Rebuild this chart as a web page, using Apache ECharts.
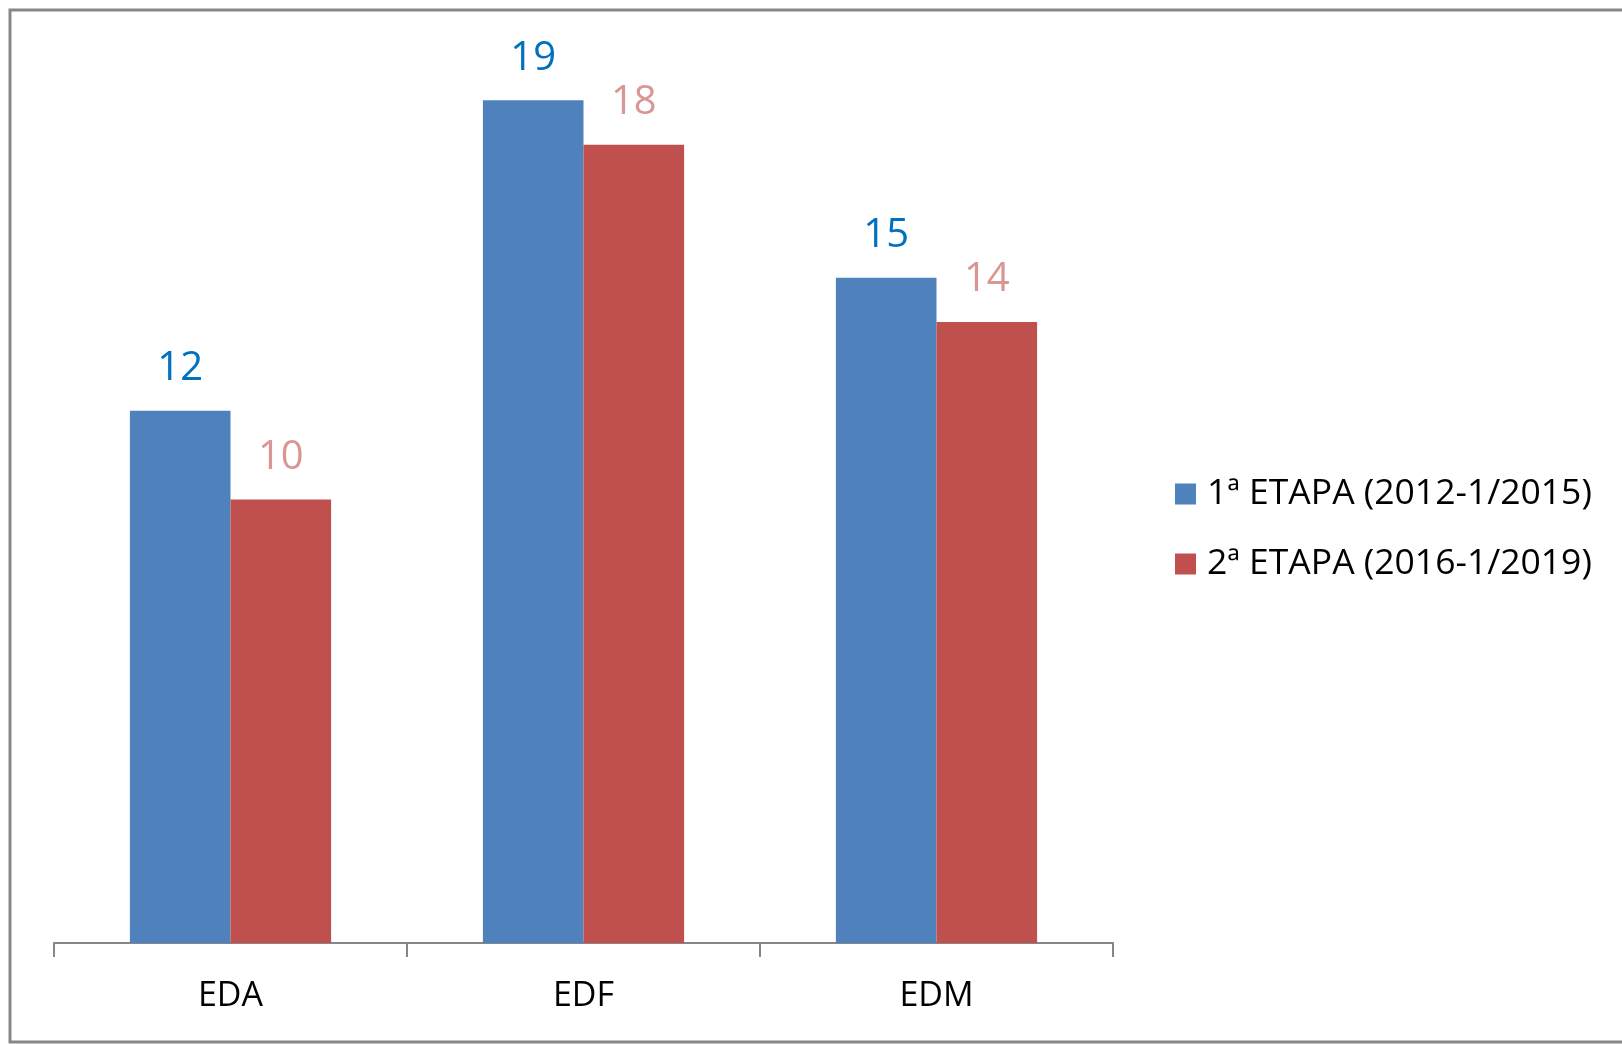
<!DOCTYPE html>
<html>
<head>
<meta charset="utf-8">
<script src="https://cdn.jsdelivr.net/npm/echarts@6/dist/echarts.min.js"></script>
<style>
  html, body { margin: 0; padding: 0; background: #fff; }
  #chart { width: 1622px; height: 1044px; }
</style>
</head>
<body>
<div id="chart"></div>
<script>
// categorias e valores
const categories = ['EDA', 'EDF', 'EDM'];
const seriesNames = ['1ª ETAPA (2012-1/2015)', '2ª ETAPA (2016-1/2019)'];
const etapa1 = [12, 19, 15];
const etapa2 = [10, 18, 14];

const chart = echarts.init(document.getElementById('chart'));

const font = '"Open Sans", "DejaVu Sans", sans-serif';

const option = {
  animation: false,
  backgroundColor: '#fff',
  // moldura cinza em volta do gráfico
  graphic: [{
    type: 'rect',
    shape: { x: 10, y: 10, width: 1620, height: 1032 },
    style: { fill: 'none', stroke: '#878787', lineWidth: 3 },
    silent: true
  }],
  grid: {
    left: 54,
    right: 509,
    top: 56,
    bottom: 101
  },
  legend: {
    orient: 'vertical',
    left: 1170,
    top: 469,
    itemWidth: 21,
    itemHeight: 21,
    itemGap: 30,
    icon: 'rect',
    textStyle: {
      fontFamily: font,
      fontSize: 35.5,
      lineHeight: 40,
      padding: [0, 0, 0, 6],
      color: '#000'
    },
    data: seriesNames
  },
  xAxis: {
    type: 'category',
    data: categories,
    axisLine: { lineStyle: { color: '#868686', width: 2 } },
    axisTick: { show: true, length: 14, lineStyle: { color: '#868686', width: 2 } },
    axisLabel: {
      margin: 36,
      fontFamily: font,
      fontSize: 34,
      color: '#000'
    }
  },
  yAxis: {
    type: 'value',
    min: 0,
    max: 20,
    show: false,
    splitLine: { show: false }
  },
  series: [
    {
      name: seriesNames[0],
      type: 'bar',
      data: etapa1,
      barGap: '0%',
      barCategoryGap: '43%',
      itemStyle: { color: '#4F81BD' },
      label: {
        show: true,
        position: 'top',
        distance: 22,
        fontFamily: font,
        fontSize: 40,
        color: '#0070C0'
      }
    },
    {
      name: seriesNames[1],
      type: 'bar',
      data: etapa2,
      barGap: '0%',
      barCategoryGap: '43%',
      itemStyle: { color: '#C0504D' },
      label: {
        show: true,
        position: 'top',
        distance: 22,
        fontFamily: font,
        fontSize: 40,
        color: '#D99694'
      }
    }
  ]
};

chart.setOption(option);
</script>
</body>
</html>
